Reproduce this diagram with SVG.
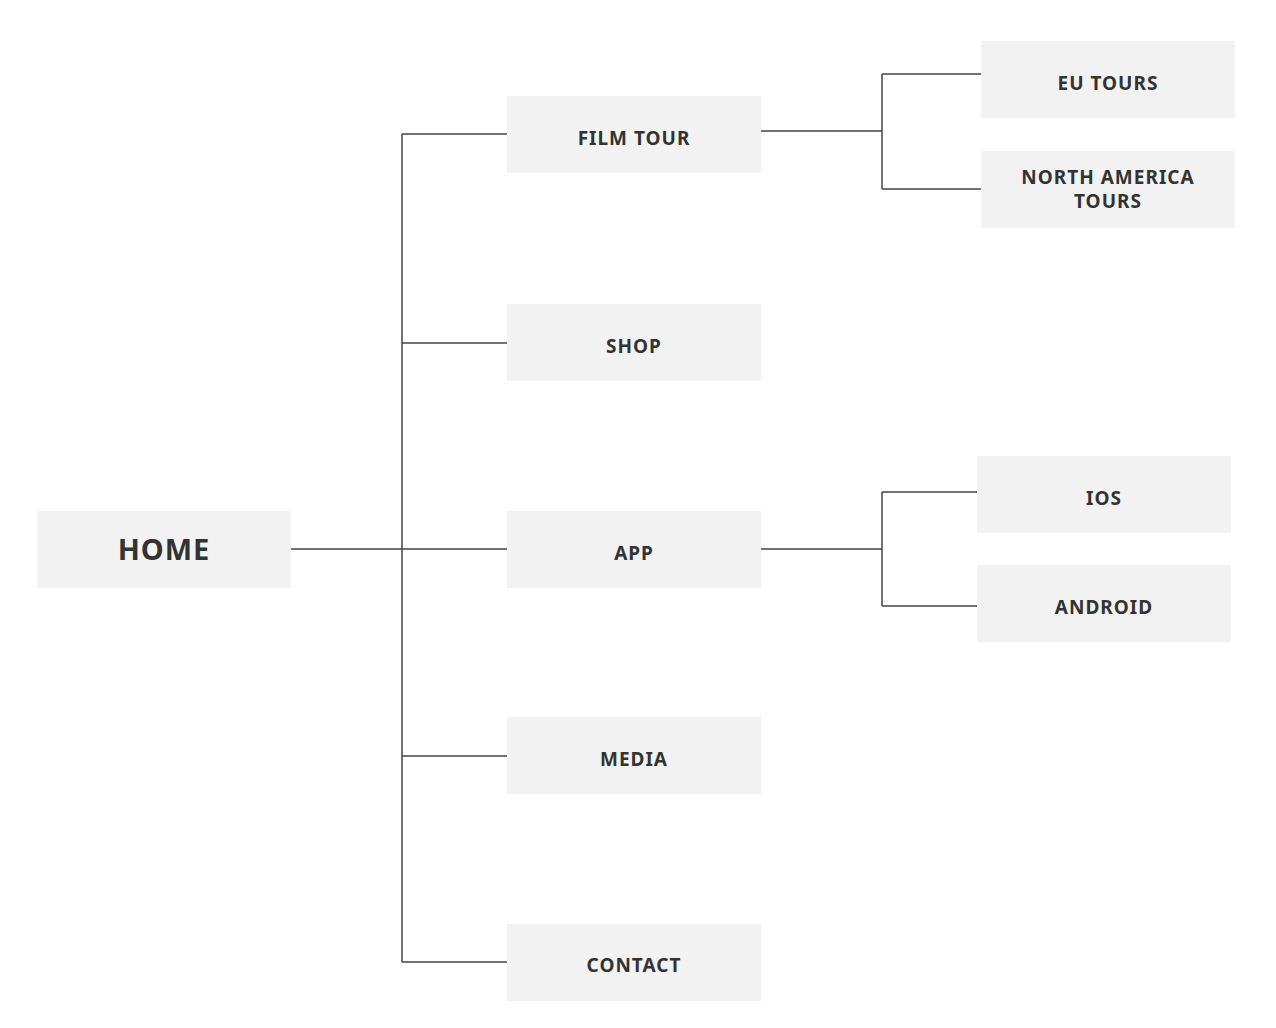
<svg xmlns="http://www.w3.org/2000/svg" width="1276" height="1028" viewBox="0 0 1276 1028">
<style>
.box{fill:#f2f2f2}
.t{font-family:"Noto Sans","Liberation Sans",sans-serif;font-weight:700;font-size:19px;fill:#333;text-anchor:middle;letter-spacing:1px}
.big{font-size:29px;letter-spacing:1px}
.c{fill:none;stroke:#444;stroke-width:1.5}
</style>
<rect width="1276" height="1028" fill="#fff"/>
<g id="connectors">
<path class="c" d="M291 549H507M402 134V962M402 134H507M402 343H507M402 756H507M402 962H507"/>
<path class="c" d="M761 131H882M882 74V189M882 74H981M882 189H981"/>
<path class="c" d="M761 549H882M882 492V606M882 492H977M882 606H977"/>
</g>
<g id="home"><rect class="box" x="37" y="511" width="254" height="77"/><text class="t big" x="164" y="560">HOME</text></g>
<g id="film-tour"><rect class="box" x="507" y="96" width="254" height="77"/><text class="t" x="634" y="145">FILM TOUR</text></g>
<g id="shop"><rect class="box" x="507" y="304" width="254" height="77"/><text class="t" x="634" y="353">SHOP</text></g>
<g id="app"><rect class="box" x="507" y="511" width="254" height="77"/><text class="t" x="634" y="560">APP</text></g>
<g id="media"><rect class="box" x="507" y="717" width="254" height="77"/><text class="t" x="634" y="766">MEDIA</text></g>
<g id="contact"><rect class="box" x="507" y="924" width="254" height="77"/><text class="t" x="634" y="972">CONTACT</text></g>
<g id="eu-tours"><rect class="box" x="981" y="41" width="254" height="77"/><text class="t" x="1108" y="90">EU TOURS</text></g>
<g id="north-america-tours"><rect class="box" x="981" y="151" width="254" height="77"/><text class="t" x="1108" y="184">NORTH AMERICA</text><text class="t" x="1108" y="208">TOURS</text></g>
<g id="ios"><rect class="box" x="977" y="456" width="254" height="77"/><text class="t" x="1104" y="505">IOS</text></g>
<g id="android"><rect class="box" x="977" y="565" width="254" height="77"/><text class="t" x="1104" y="614">ANDROID</text></g>
</svg>
